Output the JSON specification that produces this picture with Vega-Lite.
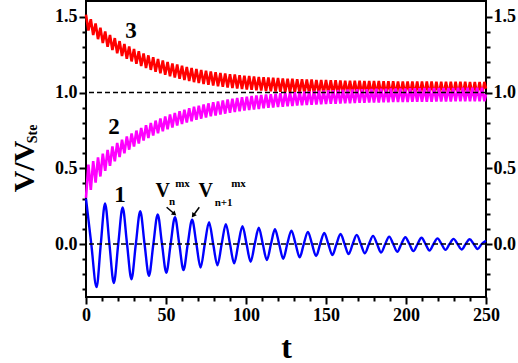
{
"$schema":"https://vega.github.io/schema/vega-lite/v6.json",
"width":400,"height":296,
"autosize":{"type":"none"},
"padding":{"left":86,"top":1,"right":32,"bottom":66},
"background":"white",
"config":{
 "view":{"stroke":"black","strokeWidth":2},
 "axis":{"domain":false,"grid":false,"ticks":true,"tickColor":"black","tickWidth":2,"labelFont":"Liberation Serif","labelFontWeight":"bold","labelFontSize":18,"labelColor":"black","titleFont":"Liberation Serif","titleFontWeight":"bold","titleColor":"black","labelFlush":false,"labelOverlap":false}
},
"datasets":{
"red":[{"t":0,"v":1.515},{"t":1.5,"v":1.410},{"t":3,"v":1.484},{"t":4.5,"v":1.380},{"t":6,"v":1.456},{"t":7.5,"v":1.353},{"t":9,"v":1.429},{"t":10.5,"v":1.327},{"t":12,"v":1.404},{"t":13.5,"v":1.303},{"t":15,"v":1.381},{"t":16.5,"v":1.281},{"t":18,"v":1.360},{"t":19.5,"v":1.260},{"t":21,"v":1.340},{"t":22.5,"v":1.241},{"t":24,"v":1.321},{"t":25.5,"v":1.223},{"t":27,"v":1.304},{"t":28.5,"v":1.206},{"t":30,"v":1.288},{"t":31.5,"v":1.190},{"t":33,"v":1.273},{"t":34.5,"v":1.176},{"t":36,"v":1.259},{"t":37.5,"v":1.162},{"t":39,"v":1.246},{"t":40.5,"v":1.150},{"t":42,"v":1.234},{"t":43.5,"v":1.138},{"t":45,"v":1.222},{"t":46.5,"v":1.127},{"t":48,"v":1.212},{"t":49.5,"v":1.117},{"t":51,"v":1.202},{"t":52.5,"v":1.108},{"t":54,"v":1.193},{"t":55.5,"v":1.099},{"t":57,"v":1.185},{"t":58.5,"v":1.091},{"t":60,"v":1.177},{"t":61.5,"v":1.083},{"t":63,"v":1.169},{"t":64.5,"v":1.076},{"t":66,"v":1.163},{"t":67.5,"v":1.069},{"t":69,"v":1.156},{"t":70.5,"v":1.063},{"t":72,"v":1.150},{"t":73.5,"v":1.057},{"t":75,"v":1.145},{"t":76.5,"v":1.052},{"t":78,"v":1.140},{"t":79.5,"v":1.047},{"t":81,"v":1.135},{"t":82.5,"v":1.042},{"t":84,"v":1.130},{"t":85.5,"v":1.038},{"t":87,"v":1.126},{"t":88.5,"v":1.034},{"t":90,"v":1.122},{"t":91.5,"v":1.030},{"t":93,"v":1.119},{"t":94.5,"v":1.027},{"t":96,"v":1.115},{"t":97.5,"v":1.024},{"t":99,"v":1.112},{"t":100.5,"v":1.021},{"t":102,"v":1.109},{"t":103.5,"v":1.018},{"t":105,"v":1.107},{"t":106.5,"v":1.015},{"t":108,"v":1.104},{"t":109.5,"v":1.013},{"t":111,"v":1.102},{"t":112.5,"v":1.011},{"t":114,"v":1.100},{"t":115.5,"v":1.009},{"t":117,"v":1.098},{"t":118.5,"v":1.007},{"t":120,"v":1.096},{"t":121.5,"v":1.005},{"t":123,"v":1.094},{"t":124.5,"v":1.003},{"t":126,"v":1.092},{"t":127.5,"v":1.001},{"t":129,"v":1.091},{"t":130.5,"v":1.000},{"t":132,"v":1.089},{"t":133.5,"v":0.999},{"t":135,"v":1.088},{"t":136.5,"v":0.997},{"t":138,"v":1.087},{"t":139.5,"v":0.996},{"t":141,"v":1.086},{"t":142.5,"v":0.995},{"t":144,"v":1.084},{"t":145.5,"v":0.994},{"t":147,"v":1.083},{"t":148.5,"v":0.993},{"t":150,"v":1.083},{"t":151.5,"v":0.992},{"t":153,"v":1.082},{"t":154.5,"v":0.991},{"t":156,"v":1.081},{"t":157.5,"v":0.991},{"t":159,"v":1.080},{"t":160.5,"v":0.990},{"t":162,"v":1.079},{"t":163.5,"v":0.989},{"t":165,"v":1.079},{"t":166.5,"v":0.989},{"t":168,"v":1.078},{"t":169.5,"v":0.988},{"t":171,"v":1.078},{"t":172.5,"v":0.987},{"t":174,"v":1.077},{"t":175.5,"v":0.987},{"t":177,"v":1.077},{"t":178.5,"v":0.986},{"t":180,"v":1.076},{"t":181.5,"v":0.986},{"t":183,"v":1.076},{"t":184.5,"v":0.986},{"t":186,"v":1.075},{"t":187.5,"v":0.985},{"t":189,"v":1.075},{"t":190.5,"v":0.985},{"t":192,"v":1.075},{"t":193.5,"v":0.984},{"t":195,"v":1.074},{"t":196.5,"v":0.984},{"t":198,"v":1.074},{"t":199.5,"v":0.984},{"t":201,"v":1.074},{"t":202.5,"v":0.984},{"t":204,"v":1.073},{"t":205.5,"v":0.983},{"t":207,"v":1.073},{"t":208.5,"v":0.983},{"t":210,"v":1.073},{"t":211.5,"v":0.983},{"t":213,"v":1.073},{"t":214.5,"v":0.983},{"t":216,"v":1.073},{"t":217.5,"v":0.982},{"t":219,"v":1.072},{"t":220.5,"v":0.982},{"t":222,"v":1.072},{"t":223.5,"v":0.982},{"t":225,"v":1.072},{"t":226.5,"v":0.982},{"t":228,"v":1.072},{"t":229.5,"v":0.982},{"t":231,"v":1.072},{"t":232.5,"v":0.982},{"t":234,"v":1.072},{"t":235.5,"v":0.982},{"t":237,"v":1.072},{"t":238.5,"v":0.981},{"t":240,"v":1.071},{"t":241.5,"v":0.981},{"t":243,"v":1.071},{"t":244.5,"v":0.981},{"t":246,"v":1.071},{"t":247.5,"v":0.981},{"t":249,"v":1.071},{"t":250,"v":1.026}],
"mag":[{"t":0,"v":0.305},{"t":1.5,"v":0.525},{"t":3,"v":0.358},{"t":4.5,"v":0.548},{"t":6,"v":0.405},{"t":7.5,"v":0.572},{"t":9,"v":0.446},{"t":10.5,"v":0.597},{"t":12,"v":0.483},{"t":13.5,"v":0.621},{"t":15,"v":0.516},{"t":16.5,"v":0.644},{"t":18,"v":0.546},{"t":19.5,"v":0.667},{"t":21,"v":0.574},{"t":22.5,"v":0.689},{"t":24,"v":0.599},{"t":25.5,"v":0.710},{"t":27,"v":0.623},{"t":28.5,"v":0.730},{"t":30,"v":0.644},{"t":31.5,"v":0.749},{"t":33,"v":0.664},{"t":34.5,"v":0.767},{"t":36,"v":0.683},{"t":37.5,"v":0.784},{"t":39,"v":0.700},{"t":40.5,"v":0.800},{"t":42,"v":0.716},{"t":43.5,"v":0.815},{"t":45,"v":0.731},{"t":46.5,"v":0.829},{"t":48,"v":0.745},{"t":49.5,"v":0.842},{"t":51,"v":0.758},{"t":52.5,"v":0.855},{"t":54,"v":0.770},{"t":55.5,"v":0.866},{"t":57,"v":0.782},{"t":58.5,"v":0.877},{"t":60,"v":0.792},{"t":61.5,"v":0.887},{"t":63,"v":0.802},{"t":64.5,"v":0.897},{"t":66,"v":0.811},{"t":67.5,"v":0.906},{"t":69,"v":0.820},{"t":70.5,"v":0.914},{"t":72,"v":0.828},{"t":73.5,"v":0.922},{"t":75,"v":0.835},{"t":76.5,"v":0.929},{"t":78,"v":0.843},{"t":79.5,"v":0.936},{"t":81,"v":0.849},{"t":82.5,"v":0.942},{"t":84,"v":0.855},{"t":85.5,"v":0.948},{"t":87,"v":0.861},{"t":88.5,"v":0.954},{"t":90,"v":0.867},{"t":91.5,"v":0.959},{"t":93,"v":0.872},{"t":94.5,"v":0.964},{"t":96,"v":0.876},{"t":97.5,"v":0.969},{"t":99,"v":0.881},{"t":100.5,"v":0.973},{"t":102,"v":0.885},{"t":103.5,"v":0.977},{"t":105,"v":0.889},{"t":106.5,"v":0.981},{"t":108,"v":0.892},{"t":109.5,"v":0.984},{"t":111,"v":0.896},{"t":112.5,"v":0.987},{"t":114,"v":0.899},{"t":115.5,"v":0.990},{"t":117,"v":0.902},{"t":118.5,"v":0.993},{"t":120,"v":0.905},{"t":121.5,"v":0.996},{"t":123,"v":0.907},{"t":124.5,"v":0.999},{"t":126,"v":0.910},{"t":127.5,"v":1.001},{"t":129,"v":0.912},{"t":130.5,"v":1.003},{"t":132,"v":0.914},{"t":133.5,"v":1.005},{"t":135,"v":0.916},{"t":136.5,"v":1.007},{"t":138,"v":0.918},{"t":139.5,"v":1.009},{"t":141,"v":0.920},{"t":142.5,"v":1.011},{"t":144,"v":0.921},{"t":145.5,"v":1.012},{"t":147,"v":0.923},{"t":148.5,"v":1.014},{"t":150,"v":0.924},{"t":151.5,"v":1.015},{"t":153,"v":0.926},{"t":154.5,"v":1.016},{"t":156,"v":0.927},{"t":157.5,"v":1.018},{"t":159,"v":0.928},{"t":160.5,"v":1.019},{"t":162,"v":0.929},{"t":163.5,"v":1.020},{"t":165,"v":0.930},{"t":166.5,"v":1.021},{"t":168,"v":0.931},{"t":169.5,"v":1.022},{"t":171,"v":0.932},{"t":172.5,"v":1.022},{"t":174,"v":0.933},{"t":175.5,"v":1.023},{"t":177,"v":0.934},{"t":178.5,"v":1.024},{"t":180,"v":0.934},{"t":181.5,"v":1.025},{"t":183,"v":0.935},{"t":184.5,"v":1.025},{"t":186,"v":0.936},{"t":187.5,"v":1.026},{"t":189,"v":0.936},{"t":190.5,"v":1.027},{"t":192,"v":0.937},{"t":193.5,"v":1.027},{"t":195,"v":0.937},{"t":196.5,"v":1.028},{"t":198,"v":0.938},{"t":199.5,"v":1.028},{"t":201,"v":0.938},{"t":202.5,"v":1.029},{"t":204,"v":0.939},{"t":205.5,"v":1.029},{"t":207,"v":0.939},{"t":208.5,"v":1.029},{"t":210,"v":0.940},{"t":211.5,"v":1.030},{"t":213,"v":0.940},{"t":214.5,"v":1.030},{"t":216,"v":0.940},{"t":217.5,"v":1.030},{"t":219,"v":0.941},{"t":220.5,"v":1.031},{"t":222,"v":0.941},{"t":223.5,"v":1.031},{"t":225,"v":0.941},{"t":226.5,"v":1.031},{"t":228,"v":0.941},{"t":229.5,"v":1.031},{"t":231,"v":0.942},{"t":232.5,"v":1.032},{"t":234,"v":0.942},{"t":235.5,"v":1.032},{"t":237,"v":0.942},{"t":238.5,"v":1.032},{"t":240,"v":0.942},{"t":241.5,"v":1.032},{"t":243,"v":0.942},{"t":244.5,"v":1.033},{"t":246,"v":0.943},{"t":247.5,"v":1.033},{"t":249,"v":0.943},{"t":250,"v":0.988}],
"blue":[{"t":0,"v":0.300},{"t":3.3,"v":0},{"t":6.6,"v":-0.285},{"t":9.25,"v":0},{"t":11.9,"v":0.268},{"t":14.65,"v":0},{"t":17.4,"v":-0.258},{"t":20.15,"v":0},{"t":22.9,"v":0.241},{"t":25.65,"v":0},{"t":28.4,"v":-0.233},{"t":31.15,"v":0},{"t":33.9,"v":0.217},{"t":36.6,"v":0},{"t":39.35,"v":-0.210},{"t":42.1,"v":0},{"t":44.8,"v":0.196},{"t":47.5,"v":0},{"t":50.2,"v":-0.190},{"t":52.9,"v":0},{"t":55.6,"v":0.177},{"t":58.3,"v":0},{"t":60.95,"v":-0.172},{"t":63.6,"v":0},{"t":66.3,"v":0.160},{"t":69,"v":0},{"t":71.6,"v":-0.156},{"t":74.25,"v":0},{"t":76.9,"v":0.144},{"t":79.5,"v":0},{"t":82.15,"v":-0.141},{"t":84.8,"v":0},{"t":87.4,"v":0.131},{"t":90,"v":0},{"t":92.6,"v":-0.128},{"t":95.2,"v":0},{"t":97.8,"v":0.118},{"t":100.35,"v":0},{"t":102.9,"v":-0.117},{"t":105.45,"v":0},{"t":108,"v":0.107},{"t":110.5,"v":0},{"t":113.05,"v":-0.106},{"t":115.6,"v":0},{"t":118.1,"v":0.097},{"t":120.7,"v":0},{"t":123.25,"v":-0.097},{"t":125.8,"v":0},{"t":128.4,"v":0.088},{"t":131,"v":0},{"t":133.55,"v":-0.088},{"t":136.1,"v":0},{"t":138.7,"v":0.080},{"t":141.25,"v":0},{"t":143.8,"v":-0.080},{"t":146.35,"v":0},{"t":148.9,"v":0.073},{"t":151.45,"v":0},{"t":154,"v":-0.073},{"t":156.55,"v":0},{"t":159.1,"v":0.066},{"t":161.6,"v":0},{"t":164.15,"v":-0.067},{"t":166.7,"v":0},{"t":169.2,"v":0.060},{"t":171.75,"v":0},{"t":174.3,"v":-0.061},{"t":176.85,"v":0},{"t":179.4,"v":0.054},{"t":181.9,"v":0},{"t":184.45,"v":-0.056},{"t":187,"v":0},{"t":189.5,"v":0.049},{"t":192,"v":0},{"t":194.55,"v":-0.051},{"t":197.1,"v":0},{"t":199.6,"v":0.045},{"t":202.1,"v":0},{"t":204.65,"v":-0.047},{"t":207.2,"v":0},{"t":209.7,"v":0.041},{"t":212.2,"v":0},{"t":214.7,"v":-0.043},{"t":217.2,"v":0},{"t":219.7,"v":0.037},{"t":222.2,"v":0},{"t":224.7,"v":-0.039},{"t":227.2,"v":0},{"t":229.7,"v":0.034},{"t":232.2,"v":0},{"t":234.75,"v":-0.036},{"t":237.3,"v":0},{"t":239.8,"v":0.031},{"t":242.3,"v":0},{"t":244.8,"v":-0.033},{"t":247.3,"v":0},{"t":250,"v":0.022}]
},
"layer":[
 {"data":{"name":"red"},"mark":{"type":"line","color":"#FF0000","strokeWidth":2.6},
  "encoding":{
   "x":{"field":"t","type":"quantitative","scale":{"domain":[0,250],"nice":false,"zero":false},
        "axis":{"orient":"bottom","values":[0,50,100,150,200,250],"tickSize":7,"labelPadding":2,"title":"t","titleFontSize":32,"titleY":60,"titleBaseline":"alphabetic"}},
   "y":{"field":"v","type":"quantitative","scale":{"domain":[-0.35,1.605],"nice":false,"zero":false},
        "axis":{"orient":"left","values":[0,0.5,1,1.5],"format":".1f","tickSize":7,"labelPadding":2,"title":"V/V","titleFontSize":30,"titleAngle":270,"titleX":-53,"titleY":165,"titleBaseline":"alphabetic","titleAlign":"center"}}}},
 {"data":{"name":"mag"},"mark":{"type":"line","color":"#FF00FF","strokeWidth":2.6},
  "encoding":{
   "x":{"field":"t","type":"quantitative","scale":{"domain":[0,250],"nice":false,"zero":false},
        "axis":{"orient":"bottom","values":[10,20,30,40,60,70,80,90,110,120,130,140,160,170,180,190,210,220,230,240],"tickSize":4,"labels":false,"title":null}},
   "y":{"field":"v","type":"quantitative","scale":{"domain":[-0.35,1.605],"nice":false,"zero":false},
        "axis":{"orient":"right","values":[0,0.5,1,1.5],"format":".1f","tickSize":6,"labelPadding":1,"title":null}}}},
 {"data":{"name":"blue"},"mark":{"type":"line","color":"#0000FF","strokeWidth":2.4,"interpolate":"monotone"},
  "encoding":{
   "x":{"field":"t","type":"quantitative","scale":{"domain":[0,250],"nice":false,"zero":false},"axis":null},
   "y":{"field":"v","type":"quantitative","scale":{"domain":[-0.35,1.605],"nice":false,"zero":false},
        "axis":{"orient":"left","values":[-0.3,-0.2,-0.1,0.1,0.2,0.3,0.4,0.6,0.7,0.8,0.9,1.1,1.2,1.3,1.4],"tickSize":4,"labels":false,"title":null}}}},
 {"data":{"values":[{"v":1},{"v":0}]},"mark":{"type":"rule","color":"black","strokeWidth":1.5,"strokeDash":[5,3]},
  "encoding":{
   "y":{"field":"v","type":"quantitative","scale":{"domain":[-0.35,1.605],"nice":false,"zero":false},
        "axis":{"orient":"right","values":[-0.3,-0.2,-0.1,0.1,0.2,0.3,0.4,0.6,0.7,0.8,0.9,1.1,1.2,1.3,1.4],"tickSize":4,"labels":false,"title":null}}}},
 {"data":{"values":[{"t":21.25,"v":0.324,"s":"1"},{"t":17.5,"v":0.77,"s":"2"},{"t":28.1,"v":1.41,"s":"3"}]},
  "mark":{"type":"text","font":"Liberation Serif","fontWeight":"bold","fontSize":23,"color":"black","align":"center","baseline":"middle"},
  "encoding":{"x":{"field":"t","type":"quantitative","axis":null},"y":{"field":"v","type":"quantitative","axis":null},"text":{"field":"s"}}},
 {"data":{"values":[{"t":48.0,"v":0.347,"s":"V"},{"t":74.9,"v":0.347,"s":"V"}]},
  "mark":{"type":"text","font":"Liberation Serif","fontWeight":"bold","fontSize":20,"color":"black","align":"center","baseline":"middle"},
  "encoding":{"x":{"field":"t","type":"quantitative","axis":null},"y":{"field":"v","type":"quantitative","axis":null},"text":{"field":"s"}}},
 {"data":{"values":[{"t":60.3,"v":0.396,"s":"mx"},{"t":53.8,"v":0.276,"s":"n"},{"t":86.0,"v":0.272,"s":"n+1"},{"t":95.3,"v":0.396,"s":"mx"}]},
  "mark":{"type":"text","font":"Liberation Serif","fontWeight":"bold","fontSize":11,"color":"black","align":"center","baseline":"middle"},
  "encoding":{"x":{"field":"t","type":"quantitative","axis":null},"y":{"field":"v","type":"quantitative","axis":null},"text":{"field":"s"}}},
 {"data":{"values":[{"t":-30.6,"v":0.727,"s":"Ste"}]},
  "mark":{"type":"text","font":"Liberation Serif","fontWeight":"bold","fontSize":14,"color":"black","align":"center","baseline":"alphabetic","angle":270},
  "encoding":{"x":{"field":"t","type":"quantitative","axis":null},"y":{"field":"v","type":"quantitative","axis":null},"text":{"field":"s"}}},
 {"data":{"values":[{"t":50.4,"v":0.243,"t2":54.8,"v2":0.203},{"t":70.8,"v":0.243,"t2":67.5,"v2":0.195}]},
  "mark":{"type":"rule","color":"black","strokeWidth":1.5},
  "encoding":{"x":{"field":"t","type":"quantitative","axis":null},"y":{"field":"v","type":"quantitative","axis":null},"x2":{"field":"t2"},"y2":{"field":"v2"}}},
 {"data":{"values":[{"t":55.3,"v":0.198}]},
  "mark":{"type":"point","shape":"triangle-up","filled":true,"color":"black","size":30,"angle":132,"opacity":1},
  "encoding":{"x":{"field":"t","type":"quantitative","axis":null},"y":{"field":"v","type":"quantitative","axis":null}}},
 {"data":{"values":[{"t":67.0,"v":0.188}]},
  "mark":{"type":"point","shape":"triangle-up","filled":true,"color":"black","size":30,"angle":215,"opacity":1},
  "encoding":{"x":{"field":"t","type":"quantitative","axis":null},"y":{"field":"v","type":"quantitative","axis":null}}}
],
"resolve":{"scale":{"x":"shared","y":"shared"},"axis":{"x":"independent","y":"independent"}}
}
